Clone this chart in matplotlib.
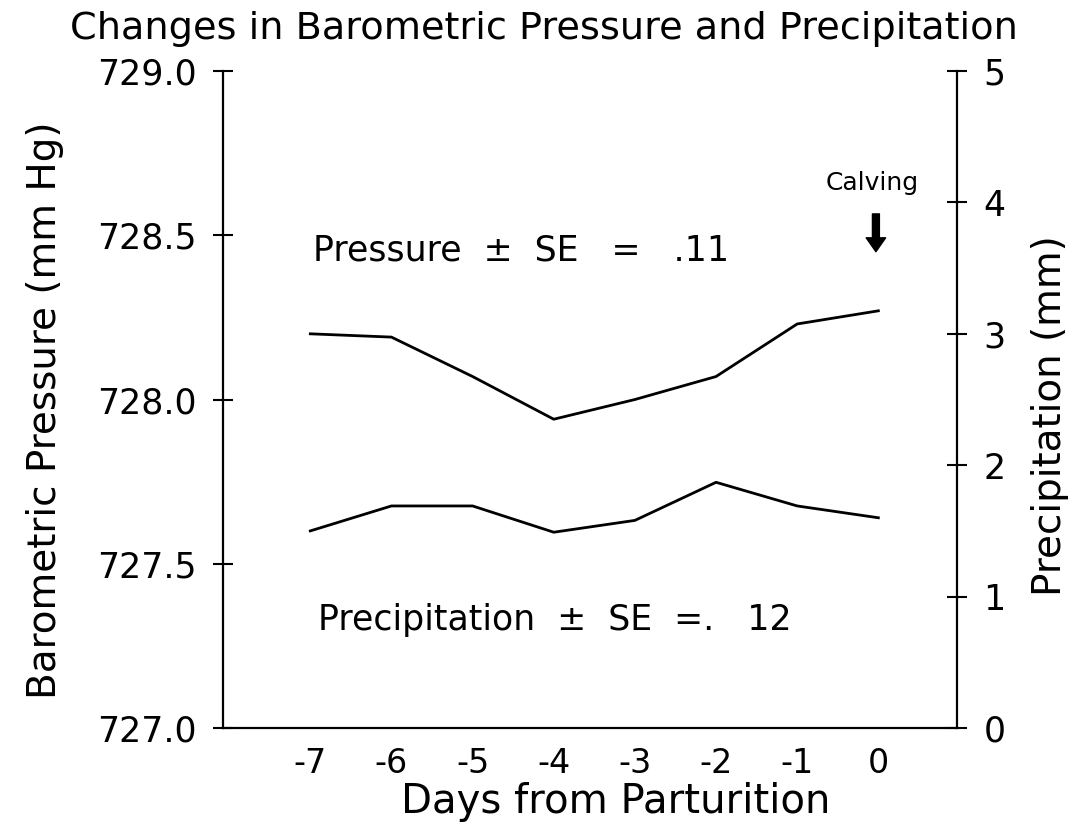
import matplotlib
matplotlib.use('Agg')
import matplotlib.pyplot as plt

# ---- data ----
days = [-7, -6, -5, -4, -3, -2, -1, 0]
pressure = [728.20, 728.19, 728.07, 727.94, 728.00, 728.07, 728.23, 728.27]
precip = [1.50, 1.69, 1.69, 1.49, 1.58, 1.87, 1.69, 1.60]
x_tick_labels = ['-7', '-6', '-5', '-4', '-3', '-2', '-1', '0']
left_ticks = [727.0, 727.5, 728.0, 728.5, 729.0]
right_ticks = [0, 1, 2, 3, 4, 5]

plt.rcParams['font.family'] = ['DejaVu Sans']
plt.rcParams['text.color'] = 'black'

fig = plt.figure(figsize=(10.84, 8.24), dpi=100)
ax = fig.add_axes([0.2054, 0.1165, 0.6775, 0.7973])
ax2 = ax.twinx()

ax.plot(days, pressure, color='black', lw=2.0)
ax2.plot(days, precip, color='black', lw=2.0)

ax.set_xlim(-8.08, 0.97)
ax.set_ylim(727, 729)
ax2.set_ylim(0, 5)

for s in ['top', 'right']:
    ax.spines[s].set_visible(False)
for s in ['top', 'left', 'bottom']:
    ax2.spines[s].set_visible(False)
for sp in list(ax.spines.values()) + list(ax2.spines.values()):
    sp.set_linewidth(1.6)

ax.set_xticks(days)
ax.set_xticklabels(x_tick_labels)
ax.tick_params(axis='x', length=0, labelsize=24, pad=14)

ax.set_yticks(left_ticks)
ax.set_yticklabels([f'{v:.1f}' for v in left_ticks])
ax.tick_params(axis='y', direction='inout', length=14, width=1.5, labelsize=25, pad=12)

ax2.set_yticks(right_ticks)
ax2.set_yticklabels([str(v) for v in right_ticks])
ax2.tick_params(axis='y', direction='inout', length=14, width=1.5, labelsize=25, pad=12)

fig.text(0.502, 0.965, 'Changes in Barometric Pressure and Precipitation',
         ha='center', va='center', fontsize=27.5)
fig.text(0.0415, 0.5024, 'Barometric Pressure (mm Hg)', rotation=90,
         ha='center', va='center', fontsize=28)
fig.text(0.9686, 0.495, 'Precipitation (mm)', rotation=90,
         ha='center', va='center', fontsize=28)
fig.text(0.568, 0.027, 'Days from Parturition', ha='center', va='center', fontsize=29)

ax.text(-6.97, 728.455, 'Pressure  ±  SE   =   .11', ha='left', va='center', fontsize=25)
ax.text(-6.91, 727.33, 'Precipitation  ±  SE  =.   12', ha='left', va='center', fontsize=25)
ax.text(-0.08, 728.66, 'Calving', ha='center', va='center', fontsize=18)
ax.annotate('', xy=(-0.03, 728.45), xytext=(-0.03, 728.565),
            arrowprops=dict(arrowstyle='simple,head_length=0.5,head_width=0.7,tail_width=0.25',
                            mutation_scale=20, color='black', shrinkA=0, shrinkB=0))

fig.savefig('out.png', dpi=100)
